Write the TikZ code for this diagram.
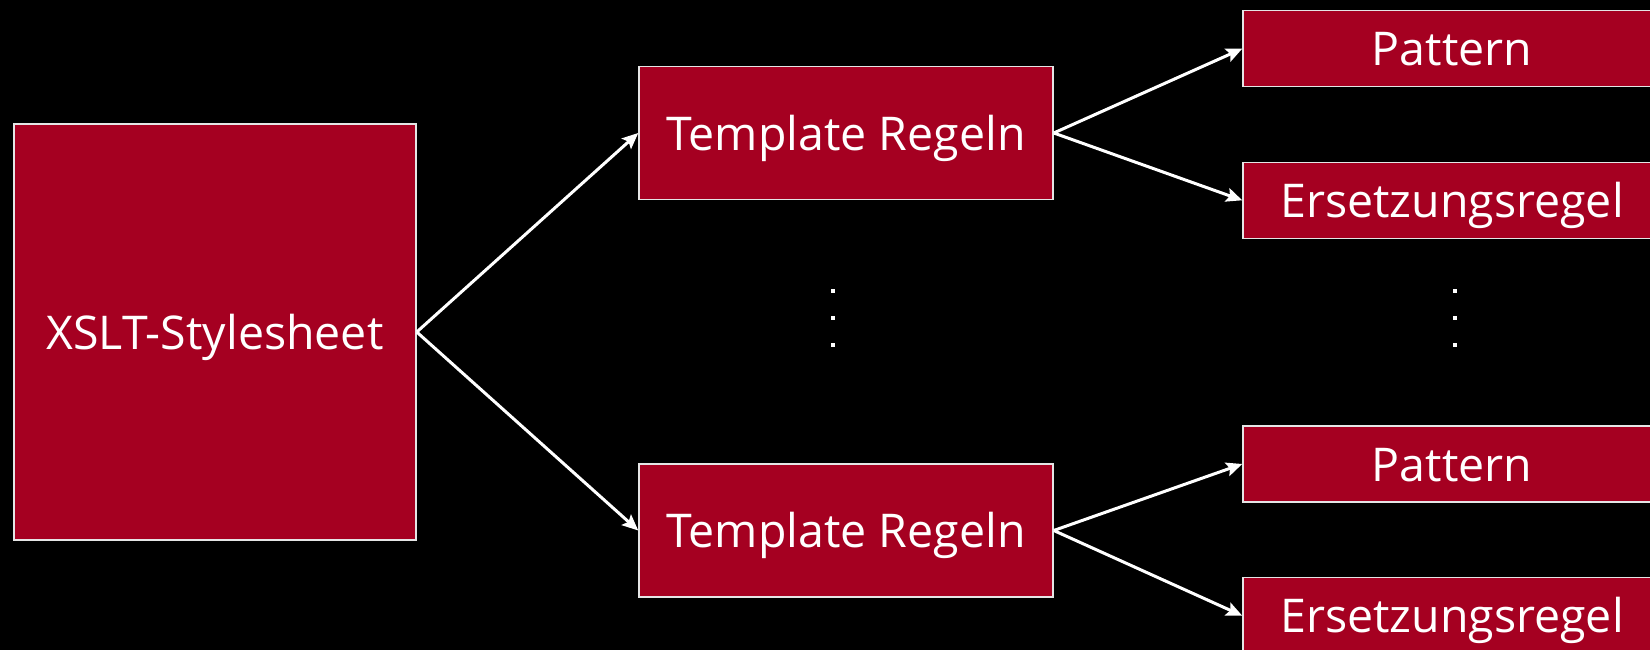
\documentclass[tikz,border=0pt]{standalone}
\usepackage{fontspec}
\setmainfont{Open Sans}
\usetikzlibrary{arrows.meta}
\definecolor{boxred}{HTML}{A50021}
\tikzset{
  box/.style={rectangle, draw=white!90!black, line width=1.5pt, fill=boxred,
    text=white, inner sep=0pt, text height=34pt, text depth=0pt,
    font=\fontsize{46.5}{54}\selectfont},
  bigbox/.style={box, minimum width=402pt, minimum height=416pt},
  rulebox/.style={box, minimum width=414pt, minimum height=133pt},
  partbox/.style={box, minimum width=418pt, minimum height=76pt},
  link/.style={draw=white, line width=3pt,
    -{Stealth[length=16pt,width=14pt,inset=3pt]}},
  dot/.style={fill=white}
}
\begin{document}
\begin{tikzpicture}[x=1pt,y=-1pt]
  % black canvas
  \fill[black] (0,0) rectangle (1650,650);
  \useasboundingbox (0,0) rectangle (1650,650);
  \clip (0,0) rectangle (1650,650);

  % stylesheet
  \node[bigbox] (xslt) at (215,332) {XSLT-Stylesheet};

  % template rules
  \node[rulebox] (t1) at (846,133) {Template Regeln};
  \node[rulebox] (t2) at (846,530.5) {Template Regeln};

  % parts of each rule
  \node[partbox] (p1) at (1452,48.7) {Pattern};
  \node[partbox] (e1) at (1452,200.3) {Ersetzungsregel};
  \node[partbox] (p2) at (1452,464) {Pattern};
  \node[partbox] (e2) at (1452,615.7) {Ersetzungsregel};

  % connectors
  \draw[link] (xslt.east) -- (t1.west);
  \draw[link] (xslt.east) -- (t2.west);
  \draw[link] (t1.east) -- (p1.west);
  \draw[link] (t1.east) -- (e1.west);
  \draw[link] (t2.east) -- (p2.west);
  \draw[link] (t2.east) -- (e2.west);

  % vertical ellipses
  \foreach \y in {291,318,345} {
    \fill[dot] (831,\y-2) rectangle (835,\y+2);
    \fill[dot] (1453,\y-2) rectangle (1457,\y+2);
  }
\end{tikzpicture}
\end{document}
